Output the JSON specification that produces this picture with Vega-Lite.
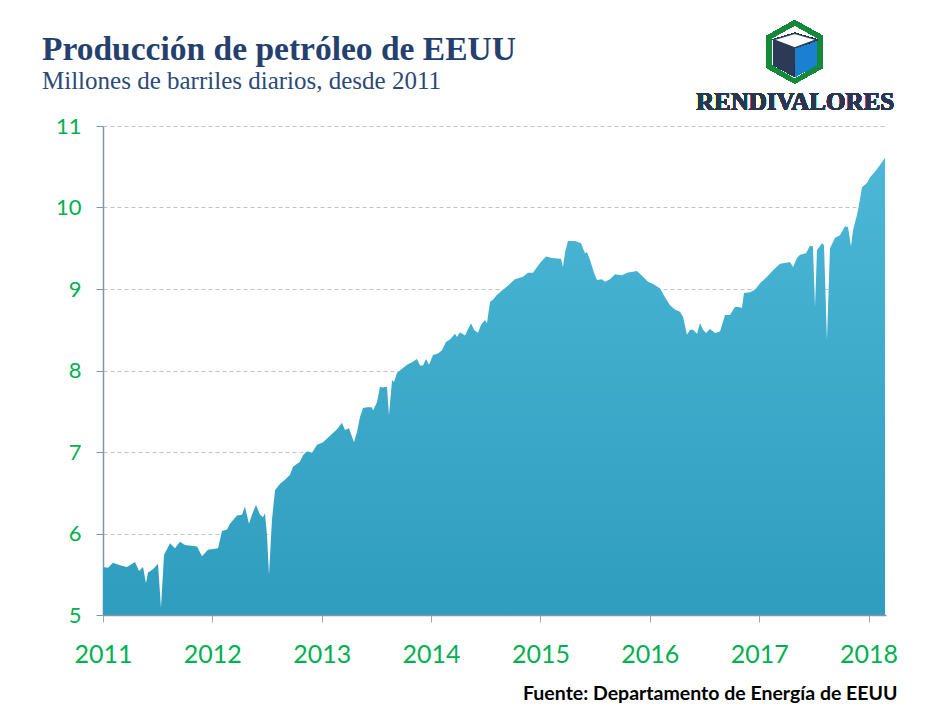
{
  "$schema": "https://vega.github.io/schema/vega-lite/v6.json",
  "width": 783,
  "height": 489,
  "autosize": {"type": "none"},
  "padding": {"left": 103, "top": 126, "right": 55, "bottom": 105},
  "background": "white",
  "title": {
    "text": "Producción de petróleo de EEUU",
    "subtitle": "Millones de barriles diarios, desde 2011",
    "anchor": "start",
    "frame": "group",
    "dx": -61,
    "offset": -75,
    "font": "Liberation Serif",
    "fontSize": 33.5,
    "fontWeight": "bold",
    "color": "#23406e",
    "subtitleFont": "Liberation Serif",
    "subtitleFontSize": 25,
    "subtitleColor": "#2b4a78",
    "subtitlePadding": 2
  },
  "config": {"view": {"stroke": null}},
  "data": {
    "values": [
      {"t": 2011.000, "v": 5.59}, {"t": 2011.046, "v": 5.58}, {"t": 2011.091, "v": 5.64}, {"t": 2011.155, "v": 5.61},
      {"t": 2011.219, "v": 5.59}, {"t": 2011.293, "v": 5.65}, {"t": 2011.329, "v": 5.54}, {"t": 2011.366, "v": 5.59},
      {"t": 2011.393, "v": 5.39}, {"t": 2011.411, "v": 5.52}, {"t": 2011.457, "v": 5.56}, {"t": 2011.503, "v": 5.63},
      {"t": 2011.530, "v": 5.09}, {"t": 2011.558, "v": 5.74}, {"t": 2011.613, "v": 5.88}, {"t": 2011.658, "v": 5.82},
      {"t": 2011.704, "v": 5.90}, {"t": 2011.750, "v": 5.86}, {"t": 2011.860, "v": 5.84}, {"t": 2011.905, "v": 5.72},
      {"t": 2011.960, "v": 5.80}, {"t": 2012.052, "v": 5.82}, {"t": 2012.088, "v": 6.03}, {"t": 2012.134, "v": 6.05},
      {"t": 2012.161, "v": 6.12}, {"t": 2012.225, "v": 6.22}, {"t": 2012.271, "v": 6.23}, {"t": 2012.298, "v": 6.33},
      {"t": 2012.335, "v": 6.12}, {"t": 2012.362, "v": 6.23}, {"t": 2012.399, "v": 6.35}, {"t": 2012.436, "v": 6.23},
      {"t": 2012.463, "v": 6.20}, {"t": 2012.481, "v": 6.25}, {"t": 2012.500, "v": 5.98}, {"t": 2012.518, "v": 5.49},
      {"t": 2012.545, "v": 6.17}, {"t": 2012.573, "v": 6.53}, {"t": 2012.619, "v": 6.61}, {"t": 2012.664, "v": 6.66},
      {"t": 2012.710, "v": 6.72}, {"t": 2012.737, "v": 6.82}, {"t": 2012.801, "v": 6.88}, {"t": 2012.829, "v": 6.96},
      {"t": 2012.865, "v": 7.01}, {"t": 2012.911, "v": 6.99}, {"t": 2012.957, "v": 7.09}, {"t": 2013.012, "v": 7.12},
      {"t": 2013.076, "v": 7.20}, {"t": 2013.140, "v": 7.28}, {"t": 2013.185, "v": 7.36}, {"t": 2013.213, "v": 7.27},
      {"t": 2013.249, "v": 7.29}, {"t": 2013.295, "v": 7.12}, {"t": 2013.323, "v": 7.25}, {"t": 2013.350, "v": 7.43},
      {"t": 2013.378, "v": 7.54}, {"t": 2013.414, "v": 7.55}, {"t": 2013.460, "v": 7.55}, {"t": 2013.469, "v": 7.51},
      {"t": 2013.505, "v": 7.61}, {"t": 2013.533, "v": 7.80}, {"t": 2013.560, "v": 7.79}, {"t": 2013.597, "v": 7.80},
      {"t": 2013.615, "v": 7.45}, {"t": 2013.643, "v": 7.88}, {"t": 2013.661, "v": 7.86}, {"t": 2013.688, "v": 7.97},
      {"t": 2013.734, "v": 8.02}, {"t": 2013.780, "v": 8.07}, {"t": 2013.826, "v": 8.10}, {"t": 2013.871, "v": 8.14},
      {"t": 2013.899, "v": 8.06}, {"t": 2013.926, "v": 8.06}, {"t": 2013.954, "v": 8.14}, {"t": 2013.981, "v": 8.07},
      {"t": 2014.018, "v": 8.19}, {"t": 2014.063, "v": 8.21}, {"t": 2014.100, "v": 8.25}, {"t": 2014.136, "v": 8.35},
      {"t": 2014.173, "v": 8.38}, {"t": 2014.219, "v": 8.45}, {"t": 2014.237, "v": 8.41}, {"t": 2014.264, "v": 8.47},
      {"t": 2014.310, "v": 8.43}, {"t": 2014.365, "v": 8.58}, {"t": 2014.393, "v": 8.50}, {"t": 2014.429, "v": 8.46},
      {"t": 2014.457, "v": 8.56}, {"t": 2014.493, "v": 8.62}, {"t": 2014.511, "v": 8.58}, {"t": 2014.539, "v": 8.84},
      {"t": 2014.566, "v": 8.87}, {"t": 2014.603, "v": 8.93}, {"t": 2014.694, "v": 9.03}, {"t": 2014.767, "v": 9.12},
      {"t": 2014.841, "v": 9.15}, {"t": 2014.886, "v": 9.20}, {"t": 2014.932, "v": 9.20}, {"t": 2014.996, "v": 9.32},
      {"t": 2015.051, "v": 9.40}, {"t": 2015.106, "v": 9.38}, {"t": 2015.188, "v": 9.37}, {"t": 2015.206, "v": 9.27},
      {"t": 2015.225, "v": 9.45}, {"t": 2015.252, "v": 9.59}, {"t": 2015.316, "v": 9.59}, {"t": 2015.371, "v": 9.56},
      {"t": 2015.407, "v": 9.44}, {"t": 2015.426, "v": 9.45}, {"t": 2015.453, "v": 9.36}, {"t": 2015.490, "v": 9.20},
      {"t": 2015.517, "v": 9.11}, {"t": 2015.563, "v": 9.12}, {"t": 2015.590, "v": 9.09}, {"t": 2015.636, "v": 9.12},
      {"t": 2015.682, "v": 9.18}, {"t": 2015.746, "v": 9.17}, {"t": 2015.792, "v": 9.20}, {"t": 2015.883, "v": 9.22},
      {"t": 2015.938, "v": 9.15}, {"t": 2015.984, "v": 9.09}, {"t": 2016.029, "v": 9.06}, {"t": 2016.093, "v": 9.01},
      {"t": 2016.139, "v": 8.90}, {"t": 2016.185, "v": 8.80}, {"t": 2016.230, "v": 8.75}, {"t": 2016.276, "v": 8.72},
      {"t": 2016.304, "v": 8.66}, {"t": 2016.340, "v": 8.44}, {"t": 2016.368, "v": 8.50}, {"t": 2016.395, "v": 8.50},
      {"t": 2016.432, "v": 8.45}, {"t": 2016.459, "v": 8.58}, {"t": 2016.487, "v": 8.50}, {"t": 2016.514, "v": 8.46},
      {"t": 2016.551, "v": 8.51}, {"t": 2016.596, "v": 8.46}, {"t": 2016.642, "v": 8.48}, {"t": 2016.688, "v": 8.68},
      {"t": 2016.733, "v": 8.68}, {"t": 2016.779, "v": 8.78}, {"t": 2016.807, "v": 8.78}, {"t": 2016.843, "v": 8.77},
      {"t": 2016.861, "v": 8.95}, {"t": 2016.916, "v": 8.96}, {"t": 2016.962, "v": 8.99}, {"t": 2017.008, "v": 9.07},
      {"t": 2017.072, "v": 9.15}, {"t": 2017.127, "v": 9.23}, {"t": 2017.191, "v": 9.31}, {"t": 2017.236, "v": 9.32},
      {"t": 2017.282, "v": 9.33}, {"t": 2017.310, "v": 9.27}, {"t": 2017.346, "v": 9.38}, {"t": 2017.374, "v": 9.42},
      {"t": 2017.428, "v": 9.44}, {"t": 2017.465, "v": 9.53}, {"t": 2017.492, "v": 9.52}, {"t": 2017.511, "v": 8.78},
      {"t": 2017.529, "v": 9.48}, {"t": 2017.575, "v": 9.56}, {"t": 2017.593, "v": 9.54}, {"t": 2017.620, "v": 8.37},
      {"t": 2017.648, "v": 9.50}, {"t": 2017.694, "v": 9.63}, {"t": 2017.739, "v": 9.66}, {"t": 2017.785, "v": 9.77},
      {"t": 2017.812, "v": 9.76}, {"t": 2017.840, "v": 9.52}, {"t": 2017.858, "v": 9.72}, {"t": 2017.895, "v": 9.91},
      {"t": 2017.913, "v": 10.03}, {"t": 2017.940, "v": 10.25}, {"t": 2017.986, "v": 10.30}, {"t": 2018.014, "v": 10.37},
      {"t": 2018.059, "v": 10.44}, {"t": 2018.105, "v": 10.52}, {"t": 2018.151, "v": 10.61}
    ]
  },
  "layer": [
    {
      "mark": {
        "type": "area",
        "interpolate": "linear",
        "color": {
          "gradient": "linear",
          "x1": 0, "y1": 0, "x2": 0, "y2": 1,
          "stops": [
            {"offset": 0, "color": "#4cb7d7"},
            {"offset": 1, "color": "#2f9dbe"}
          ]
        }
      },
      "encoding": {
        "x": {
          "field": "t",
          "type": "quantitative",
          "scale": {"domain": [2011, 2018.16], "nice": false, "zero": false},
          "axis": {
            "values": [2011, 2012, 2013, 2014, 2015, 2016, 2017, 2018],
            "format": "d",
            "grid": false,
            "zindex": 1,
            "domainColor": "#7f95ad",
            "domainWidth": 1.5,
            "tickColor": "#a6a6a6",
            "tickSize": 7,
            "labelFont": "Lato",
            "labelFontSize": 25,
            "labelColor": "#00b050",
            "labelBaseline": "alphabetic",
            "labelPadding": 40,
            "labelFlush": false,
            "labelOverlap": false,
            "title": "Fuente: Departamento de Energía de EEUU",
            "titleFont": "Lato",
            "titleFontWeight": "bold",
            "titleFontSize": 19.5,
            "titleColor": "#000000",
            "titleAnchor": "end",
            "titleAlign": "right",
            "titleBaseline": "alphabetic",
            "titleX": 794,
            "titleY": 84
          }
        },
        "y": {
          "field": "v",
          "type": "quantitative",
          "scale": {"domain": [5, 11], "nice": false, "zero": false},
          "axis": {
            "values": [5, 6, 7, 8, 9, 10, 11],
            "format": "d",
            "grid": true,
            "gridColor": "#c4c4c4",
            "gridDash": [4, 3],
            "domainColor": "#7f95ad",
            "domainWidth": 1.5,
            "tickColor": "#7f95ad",
            "tickSize": 7,
            "labelFont": "Lato",
            "labelFontSize": 22,
            "labelColor": "#00b050",
            "labelPadding": 15,
            "title": null
          }
        },
        "y2": {"datum": 5}
      }
    },
    {
      "mark": {"type": "point", "shape": "M0,-1L0.885,-0.5L0.885,0.5L0,1L-0.885,0.5L-0.885,-0.5Z", "filled": true, "fill": "#15883a", "strokeWidth": 0, "opacity": 1, "size": 4020},
      "encoding": {"x": {"datum": 2017.325}, "y": {"datum": 11.91}}
    },
    {
      "mark": {"type": "point", "shape": "M0,-0.8L0.69,-0.41L0.69,0.41L0,0.82L-0.69,0.41L-0.69,-0.41Z", "filled": true, "fill": "#ffffff", "strokeWidth": 0, "opacity": 1, "size": 4020},
      "encoding": {"x": {"datum": 2017.325}, "y": {"datum": 11.91}}
    },
    {
      "mark": {"type": "point", "shape": "M-0.66,-0.38L-0.02,-0.13L-0.02,0.78L-0.66,0.42Z", "filled": true, "fill": "#2c3a55", "strokeWidth": 0, "opacity": 1, "size": 4020},
      "encoding": {"x": {"datum": 2017.325}, "y": {"datum": 11.91}}
    },
    {
      "mark": {"type": "point", "shape": "M0.02,-0.13L0.68,-0.38L0.68,0.42L0.02,0.78Z", "filled": true, "fill": "#1c80d0", "strokeWidth": 0, "opacity": 1, "size": 4020},
      "encoding": {"x": {"datum": 2017.325}, "y": {"datum": 11.91}}
    },
    {
      "mark": {"type": "point", "shape": "M0,-0.58L0.68,-0.38L0,-0.13L-0.66,-0.38Z", "filled": true, "fill": "#ffffff", "stroke": "#2c3a55", "strokeWidth": 1.2, "opacity": 1, "size": 4020},
      "encoding": {"x": {"datum": 2017.325}, "y": {"datum": 11.91}}
    },
    {
      "mark": {"type": "text", "text": "RENDIVALORES", "font": "Liberation Serif", "fontWeight": "bold", "fontSize": 25, "color": "#2a3550", "align": "center", "baseline": "alphabetic"},
      "encoding": {"x": {"datum": 2017.328}, "y": {"datum": 11.196}}
    }
  ]
}
